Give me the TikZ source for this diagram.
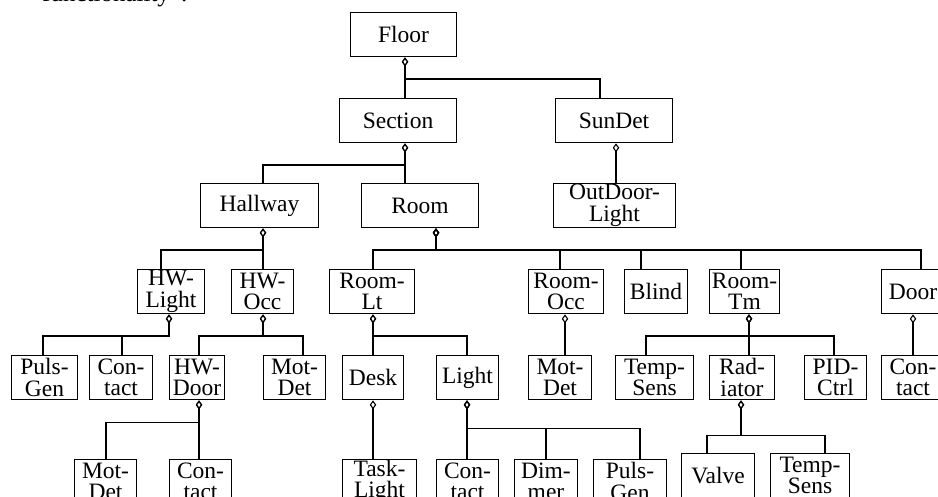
\documentclass[tikz,border=0pt]{standalone}
\usepackage{fontspec}
\setmainfont{Liberation Serif}
\usetikzlibrary{arrows.meta}

\begin{document}
\begin{tikzpicture}[x=1pt, y=1pt,
  box/.style={draw, line width=1.7pt, minimum height=44pt, inner sep=0pt, align=center,
    font=\fontsize{23.5}{21.5}\selectfont},
  agg/.style={{Diamond[open, length=9pt, width=6.5pt, line width=1.1pt]}-, line width=1.7pt}]
  \useasboundingbox (0,0) rectangle (938,-497);

  % text line above, cut by the page
  \node[anchor=base west, inner sep=0pt, font=\fontsize{25}{30}\selectfont] (cap) at (42,-1.5) {functionality''.};

  % levels 1-3
  \node[box, minimum width=106pt] (floor) at (403.5,-34.5) {Floor};
  \node[box, minimum width=117pt] (section) at (398,-120.5) {Section};
  \node[box, minimum width=117pt] (sundet) at (614,-120.5) {SunDet};
  \node[box, minimum width=118pt] (hallway) at (259.5,-205.5) {Hallway};
  \node[box, minimum width=117pt] (room) at (420,-205.5) {Room};
  \node[box, minimum width=122pt] (outdoor) at (614.5,-205.5) {OutDoor-\\Light};

  % level 4
  \node[box, minimum width=67pt] (hwlight) at (171,-291.5) {HW-\\Light};
  \node[box, minimum width=62pt] (hwocc) at (262.5,-291.5) {HW-\\Occ};
  \node[box, minimum width=85pt] (roomlt) at (372,-291.5) {Room-\\Lt};
  \node[box, minimum width=75pt] (roomocc) at (566,-291.5) {Room-\\Occ};
  \node[box, minimum width=63pt] (blind) at (656,-291.5) {Blind};
  \node[box, minimum width=70pt] (roomtm) at (744.5,-291.5) {Room-\\Tm};
  \node[box, minimum width=63pt] (door) at (913,-291.5) {Door};

  % level 5
  \node[box, minimum width=66pt] (pulsgen) at (44.5,-377.5) {Puls-\\Gen};
  \node[box, minimum width=63pt] (contact) at (121,-377.5) {Con-\\tact};
  \node[box, minimum width=55pt] (hwdoor) at (197,-377.5) {HW-\\Door};
  \node[box, minimum width=62pt] (motdet) at (294.5,-377.5) {Mot-\\Det};
  \node[box, minimum width=61pt] (desk) at (373,-377.5) {Desk};
  \node[box, minimum width=62pt] (light) at (467.5,-377.5) {Light};
  \node[box, minimum width=63pt] (roommot) at (560,-377.5) {Mot-\\Det};
  \node[box, minimum width=78pt] (tempsens) at (654.5,-377.5) {Temp-\\Sens};
  \node[box, minimum width=65pt] (radiator) at (742,-377.5) {Rad-\\iator};
  \node[box, minimum width=62pt] (pidctrl) at (835.5,-377.5) {PID-\\Ctrl};
  \node[box, minimum width=63pt] (doorcont) at (913,-377.5) {Con-\\tact};

  % level 6
  \node[box, minimum width=62pt] (doormot) at (105.5,-481.5) {Mot-\\Det};
  \node[box, minimum width=62pt] (doorcon) at (200.5,-481.5) {Con-\\tact};
  \node[box, minimum width=74pt] (tasklight) at (379.5,-481.5) {Task-\\Light};
  \node[box, minimum width=62pt] (lightcon) at (467.5,-481.5) {Con-\\tact};
  \node[box, minimum width=63pt] (dimmer) at (546,-481.5) {Dim-\\mer};
  \node[box, minimum width=73pt] (lightpuls) at (630,-481.5) {Puls-\\Gen};
  \node[box, minimum width=73pt] (valve) at (718,-475.5) {Valve};
  \node[box, minimum width=79pt] (radsens) at (810,-475.5) {Temp-\\Sens};

  % aggregation links
  \foreach \c/\dx in {section/7, sundet/-14}
    \draw[agg] ([xshift=1.5pt]floor.south) -- ++(0,-22) -| ([xshift=\dx pt]\c.north);
  \foreach \c/\dx in {hallway/3.5, room/-15}
    \draw[agg] ([xshift=7pt]section.south) -- ++(0,-22) -| ([xshift=\dx pt]\c.north);
  \draw[agg] ([xshift=2pt]sundet.south) -- ([xshift=1.5pt]outdoor.north);
  \foreach \c/\dx in {hwlight/-10, hwocc/0.5}
    \draw[agg] ([xshift=3.5pt]hallway.south) -- ++(0,-22) -| ([xshift=\dx pt]\c.north);
  \foreach \c/\dx in {roomlt/1, roomocc/-6, blind/-15, roomtm/-3.5, door/8}
    \draw[agg] ([xshift=16pt]room.south) -- ++(0,-22) -| ([xshift=\dx pt]\c.north);
  \foreach \c/\dx in {pulsgen/-1.5, contact/1}
    \draw[agg] ([xshift=-2pt]hwlight.south) -- ++(0,-22) -| ([xshift=\dx pt]\c.north);
  \foreach \c/\dx in {hwdoor/2, motdet/8.5}
    \draw[agg] ([xshift=0.5pt]hwocc.south) -- ++(0,-22) -| ([xshift=\dx pt]\c.north);
  \foreach \c/\dx in {desk/0, light/-0.5}
    \draw[agg] ([xshift=1pt]roomlt.south) -- ++(0,-22) -| ([xshift=\dx pt]\c.north);
  \draw[agg] ([xshift=-1pt]roomocc.south) -- ([xshift=5pt]roommot.north);
  \foreach \c/\dx in {tempsens/-8.5, radiator/7, pidctrl/-1.5}
    \draw[agg] ([xshift=4.5pt]roomtm.south) -- ++(0,-22) -| ([xshift=\dx pt]\c.north);
  \draw[agg] (door.south) -- (doorcont.north);
  \foreach \c/\dx in {doormot/0.5, doorcon/-1.5}
    \draw[agg] ([xshift=2pt]hwdoor.south) -- ++(0,-22) -| ([xshift=\dx pt]\c.north);
  \draw[agg] (desk.south) -- ([xshift=-6.5pt]tasklight.north);
  \foreach \c/\dx in {lightcon/-0.5, dimmer/0, lightpuls/10}
    \draw[agg] ([xshift=-0.5pt]light.south) -- ++(0,-28) -| ([xshift=\dx pt]\c.north);
  \foreach \c/\dx in {valve/-11, radsens/15}
    \draw[agg] ([xshift=-1pt]radiator.south) -- ++(0,-35) -| ([xshift=\dx pt]\c.north);
\end{tikzpicture}
\end{document}
